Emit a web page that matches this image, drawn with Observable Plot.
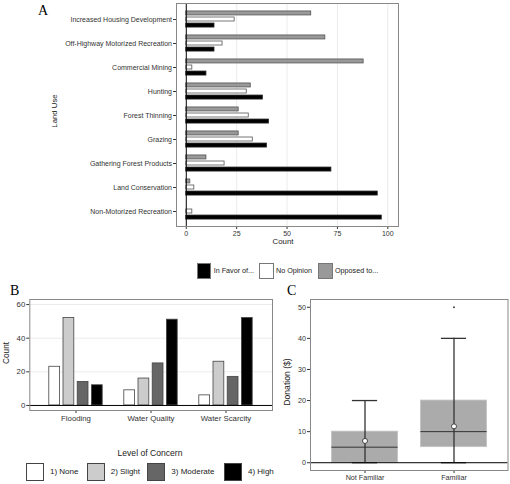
<!DOCTYPE html>
<html><head><meta charset="utf-8">
<script src="https://cdn.jsdelivr.net/npm/d3@7"></script>
<script src="https://cdn.jsdelivr.net/npm/@observablehq/plot@0.6"></script>
<style>
body{margin:0;background:#fff;}
#root{position:relative;width:510px;height:484px;overflow:hidden;font-family:"Liberation Sans",Arial,sans-serif;color:#222;}
#root svg{position:absolute;overflow:visible;}
.letter{position:absolute;font-family:"Liberation Serif","Times New Roman",serif;font-size:14px;line-height:14px;color:#000;}
.sw{position:absolute;box-sizing:border-box;}
.lt{position:absolute;white-space:nowrap;line-height:1;}
.rot{position:absolute;white-space:nowrap;line-height:1;transform:translate(-50%,-50%) rotate(-90deg);}
.ctr{position:absolute;white-space:nowrap;line-height:1;transform:translate(-50%,-50%);}
</style></head>
<body><div id="root"></div>
<script>
// ---------- Panel A data ----------
const landUses = ["Increased Housing Development","Off-Highway Motorized Recreation","Commercial Mining","Hunting","Forest Thinning","Grazing","Gathering Forest Products","Land Conservation","Non-Motorized Recreation"];
const inFavor   = [14,14,10,38,41,40,72,95,97];
const noOpinion = [24,18, 3,30,31,33,19, 4, 3];
const opposed   = [62,69,88,32,26,26,10, 2, 0];
const responseLevels = ["In Favor of...","No Opinion","Opposed to..."];
const countTicksA = [0,25,50,75,100];

// ---------- Panel B data ----------
const issues = ["Flooding","Water Quality","Water Scarcity"];
const concernLevels = ["1) None","2) Slight","3) Moderate","4) High"];
const concernNone     = [23, 9, 6];
const concernSlight   = [52,16,26];
const concernModerate = [14,25,17];
const concernHigh     = [12,51,52];
const countTicksB = [0,20,40,60];

// ---------- Panel C data ----------
const familiarity = ["Not Familiar","Familiar"];
const boxQ1     = [0, 5];
const boxMedian = [5,10];
const boxQ3     = [10,20];
const whiskerLo = [0, 0];
const whiskerHi = [20,40];
const donationMean = [7,11.7];
const outlierGroup = ["Familiar"];
const outlierValue = [50];
const donationTicks = [0,10,20,30,40,50];

const root = document.getElementById("root");
function add(el){root.appendChild(el);return el;}
function div(cls, text, css){const d=document.createElement("div");d.className=cls;d.textContent=text;Object.assign(d.style,css);return add(d);}

// ================= Panel A =================
const rowsA = landUses.map((u,i)=>({use:u, favor:inFavor[i], none:noOpinion[i], opp:opposed[i]}));
const plotA = Plot.plot({
  width:410, height:250,
  marginLeft:176, marginRight:12, marginTop:3, marginBottom:24,
  style:{fontFamily:"Liberation Sans, Arial, sans-serif", fontSize:"7px", color:"#333", background:"transparent"},
  x:{domain:[-4.85,105.3], ticks:countTicksA, tickSize:3, tickPadding:1.5, label:null},
  y:{domain:landUses, paddingInner:0, paddingOuter:0.1, tickSize:3, tickPadding:1.5, label:null},
  marks:[
    Plot.ruleX(countTicksA.slice(1), {stroke:"#ebebeb", strokeWidth:1}),
    Plot.barX(rowsA, {y:"use", x:"opp", fill:"#999999", stroke:"#555", strokeWidth:0.8, insetTop:10, insetBottom:10, dy:-6.05}),
    Plot.barX(rowsA, {y:"use", x:"none", fill:"#ffffff", stroke:"#555", strokeWidth:0.8, insetTop:10, insetBottom:10}),
    Plot.barX(rowsA, {y:"use", x:"favor", fill:"#000000", stroke:"#222", strokeWidth:0.8, insetTop:10, insetBottom:10, dy:6.05}),
    Plot.ruleX([0], {stroke:"#000", strokeWidth:1}),
    Plot.frame({stroke:"#888", strokeWidth:1})
  ]
});
plotA.style.left="0px"; plotA.style.top="0px";
add(plotA);
div("letter","A",{left:"38px",top:"4px"});
div("ctr","Count",{left:"283px",top:"242px",fontSize:"7.8px"});
div("rot","Land Use",{left:"55px",top:"111px",fontSize:"7.8px"});

// Legend A
const swA = [{fill:"#000",stroke:"#777"},{fill:"#fff",stroke:"#777"},{fill:"#999",stroke:"#777"}];
const legAx = [196.7,259,318];
responseLevels.forEach((lab,i)=>{
  div("sw","",{left:legAx[i]+"px",top:"263px",width:"14.5px",height:"15.5px",background:swA[i].fill,border:"1px solid "+swA[i].stroke});
  div("lt",lab,{left:(legAx[i]+17)+"px",top:"266.5px",fontSize:"7.2px"});
});

// ================= Panel B =================
const levelArrays = [concernNone, concernSlight, concernModerate, concernHigh];
const levelFill = ["#ffffff","#cccccc","#666666","#000000"];
const levelDx = [-21.3,-7.1,7.1,21.3];
const rowsB = issues.map((s,i)=>({issue:s, none:concernNone[i], slight:concernSlight[i], moderate:concernModerate[i], high:concernHigh[i]}));
const keysB = ["none","slight","moderate","high"];
const plotB = Plot.plot({
  width:280, height:150,
  marginLeft:29.3, marginRight:8, marginTop:19, marginBottom:20,
  style:{fontFamily:"Liberation Sans, Arial, sans-serif", fontSize:"7.8px", color:"#333", background:"transparent"},
  x:{domain:issues, paddingInner:0, paddingOuter:0.1, tickSize:3, tickPadding:1.5, label:null},
  y:{domain:[-3,63], ticks:countTicksB, tickSize:3, tickPadding:1.5, label:null},
  marks:[
    Plot.ruleY(countTicksB.slice(1), {stroke:"#ebebeb", strokeWidth:1}),
    ...keysB.map((k,j)=>Plot.barY(rowsB, {x:"issue", y:k, fill:levelFill[j], stroke:"#444", strokeWidth:0.8, insetLeft:32.1, insetRight:32.1, dx:levelDx[j]})),
    Plot.ruleY([0], {stroke:"#000", strokeWidth:1}),
    Plot.frame({stroke:"#888", strokeWidth:1})
  ]
});
plotB.style.left="0px"; plotB.style.top="280px";
add(plotB);
div("letter","B",{left:"10px",top:"283.6px"});
div("rot","Count",{left:"6px",top:"353px",fontSize:"8.3px"});
div("ctr","Level of Concern",{left:"150px",top:"453px",fontSize:"8.6px"});
const legBx = [26,86.7,147.3,224];
concernLevels.forEach((lab,i)=>{
  div("sw","",{left:legBx[i]+"px",top:"462.7px",width:"18px",height:"18.5px",background:levelFill[i],border:"1px solid #444"});
  div("lt",lab,{left:(legBx[i]+24)+"px",top:"468px",fontSize:"8px"});
});

// ================= Panel C =================
const rowsC = familiarity.map((g,i)=>({group:g, q1:boxQ1[i], med:boxMedian[i], q3:boxQ3[i], lo:whiskerLo[i], hi:whiskerHi[i], mean:donationMean[i]}));
const outC = outlierGroup.map((g,i)=>({group:g, value:outlierValue[i]}));
const plotC = Plot.plot({
  width:230, height:204,
  marginLeft:30, marginRight:2.5, marginTop:19, marginBottom:14,
  style:{fontFamily:"Liberation Sans, Arial, sans-serif", fontSize:"7.2px", color:"#333", background:"transparent"},
  x:{domain:familiarity, paddingInner:0, paddingOuter:0.1, tickSize:3, tickPadding:1.5, label:null},
  y:{domain:[-2.5,52.5], ticks:donationTicks, tickSize:3, tickPadding:1.5, label:null},
  marks:[
    Plot.barY(rowsC, {x:"group", y1:"q1", y2:"q3", fill:"#ababab", stroke:"#c4c4c4", strokeWidth:0.8, insetLeft:11.4, insetRight:11.4}),
    Plot.tickY(rowsC, {x:"group", y:"med", stroke:"#333", strokeWidth:1, insetLeft:11.4, insetRight:11.4}),
    Plot.ruleX(rowsC, {x:"group", y1:"lo", y2:"hi", stroke:"#333", strokeWidth:1.3}),
    Plot.tickY(rowsC, {x:"group", y:"hi", stroke:"#333", strokeWidth:1.3, insetLeft:31.9, insetRight:31.9}),
    Plot.tickY(rowsC, {x:"group", y:"lo", stroke:"#333", strokeWidth:1.3, insetLeft:31.9, insetRight:31.9}),
    Plot.ruleY([0], {stroke:"#000", strokeWidth:1}),
    Plot.dot(rowsC, {x:"group", y:"mean", r:2.5, fill:"#fff", stroke:"#333", strokeWidth:0.9}),
    Plot.dot(outC, {x:"group", y:"value", r:0.9, fill:"#333", stroke:null}),
    Plot.frame({stroke:"#888", strokeWidth:1})
  ]
});
plotC.style.left="280px"; plotC.style.top="280px";
add(plotC);
div("letter","C",{left:"287px",top:"283.6px"});
div("rot","Donation ($)",{left:"287px",top:"382px",fontSize:"8.6px"});
</script>
</body></html>
